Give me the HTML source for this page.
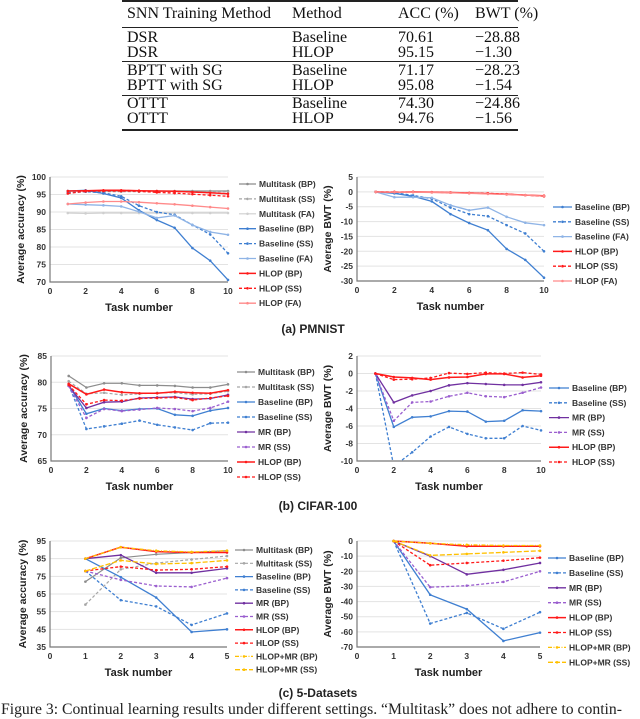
<!DOCTYPE html>
<html><head><meta charset="utf-8">
<style>
html,body{margin:0;padding:0;background:#fff;}
body{width:640px;height:719px;position:relative;overflow:hidden;font-family:"Liberation Sans",sans-serif;}
.t{position:absolute;font-family:"Liberation Serif",serif;font-size:16px;color:#111;white-space:nowrap;line-height:16px;}
.rule{position:absolute;left:122px;width:396px;background:#222;}
svg{position:absolute;left:0;top:0;}
.cap{position:absolute;font-family:"Liberation Serif",serif;font-size:15.7px;color:#222;white-space:nowrap;}
</style></head>
<body>
<div>
<div class="rule" style="top:0px;height:2px"></div>
<div class="rule" style="top:27px;height:1px"></div>
<div class="rule" style="top:61px;height:1px"></div>
<div class="rule" style="top:95px;height:1px"></div>
<div class="rule" style="top:129px;height:2px"></div>
<div id="tbl"></div>
</div>
<svg id="fig" width="640" height="719"></svg>
<div class="cap" style="left:1px;top:701px">Figure 3: Continual learning results under different settings. “Multitask” does not adhere to contin-</div>
<script>
// ---- table ----
const tblRows=[["SNN Training Method","Method","ACC (%)","BWT (%)"],
["DSR","Baseline","70.61","−28.88"],["DSR","HLOP","95.15","−1.30"],
["BPTT with SG","Baseline","71.17","−28.23"],["BPTT with SG","HLOP","95.08","−1.54"],
["OTTT","Baseline","74.30","−24.86"],["OTTT","HLOP","94.76","−1.56"]];
const tblY=[6,30,45,63,78,96,111];
const tblX=[127,292,398,475];
const tb=document.getElementById('tbl');
tblRows.forEach((r,i)=>{r.forEach((c,j)=>{const d=document.createElement('div');d.className='t';
d.style.left=tblX[j]+'px';d.style.top=tblY[i]+'px';d.textContent=c;

tb.appendChild(d);});});

// ---- chart data ----
const x10=[1,2,3,4,5,6,7,8,9,10];
const x5=[1,2,3,4,5];
const pmAccMtBP=[96,96,96,96,96,96,96,96,96,96];
const pmAccMtSS=[95.8,95.8,95.8,95.8,95.8,95.8,95.8,95.8,95.8,95.8];
const pmAccMtFA=[89.7,89.6,89.7,89.7,89.7,89.7,89.7,89.7,89.7,89.7];
const pmAccBaseBP=[96,96.2,95.3,94,90.5,87.7,85.5,79.7,76.1,70.6];
const pmAccBaseSS=[95.5,95.8,95.5,94.5,91.8,90,89.2,86.3,83.6,78.2];
const pmAccBaseFA=[92.3,92.1,91.9,91.6,90.1,88.3,89,86.3,84.3,83.5];
const pmAccHlopBP=[96,96.1,96.2,96.2,96.1,96,95.9,95.7,95.5,95.2];
const pmAccHlopSS=[95.3,95.9,96,96,95.9,95.6,95.4,95.1,94.8,94.5];
const pmAccHlopFA=[92.3,92.7,93,93,92.8,92.5,92.2,91.8,91.4,91];
const pmBwtBaseBP=[0,-0.5,-1.5,-3.2,-7.5,-10.5,-12.9,-19.2,-22.9,-28.9];
const pmBwtBaseSS=[0,-0.3,-1.2,-2.3,-5.3,-7.5,-8.2,-11.2,-14,-20];
const pmBwtBaseFA=[0,-1.8,-1.8,-2,-4.5,-6.2,-5.3,-8.4,-10.4,-11.2];
const pmBwtHlopBP=[0,-0.1,0,-0.1,-0.2,-0.4,-0.6,-0.8,-1.1,-1.3];
const pmBwtHlopSS=[0,0,-0.1,-0.1,-0.3,-0.4,-0.5,-0.8,-1.1,-1.5];
const pmBwtHlopFA=[0,-0.1,-0.1,-0.2,-0.3,-0.5,-0.7,-0.9,-1.1,-1.4];
const cfAccMtBP=[81.2,79,79.8,79.8,79.4,79.4,79.3,79,79,79.6];
const cfAccMtSS=[80.2,77.8,78,77.6,77.8,78,78,77.7,77.8,78.3];
const cfAccBaseBP=[79.5,74,75,74.6,74.9,75,73.8,73.6,74.6,75.1];
const cfAccBaseSS=[79.5,71.1,71.6,72.1,72.7,71.9,71.4,70.9,72.2,72.3];
const cfAccMrBP=[79.3,75.1,76.2,76.3,77,77.1,77.2,76.8,76.9,77.6];
const cfAccMrSS=[79.3,73.2,74.9,74.5,74.8,75.1,74.9,74.5,75.1,76.3];
const cfAccHlopBP=[79.7,77.7,78.6,78.1,77.9,77.9,78.2,78,77.9,78.5];
const cfAccHlopSS=[79.5,75.8,76.6,76.5,76.9,77,77.1,76.6,77,77.4];
const cfBwtBaseBP=[0,-6.1,-5,-4.9,-4.3,-4.35,-5.5,-5.4,-4.2,-4.3];
const cfBwtBaseSS=[0,-10.6,-9,-7.2,-6.1,-6.9,-7.4,-7.4,-6,-6.5];
const cfBwtMrBP=[0,-3.3,-2.5,-2,-1.35,-1.1,-1.2,-1.3,-1.3,-1];
const cfBwtMrSS=[0,-5.4,-3.3,-3.2,-2.6,-2.2,-2.6,-2.7,-2.2,-1.6];
const cfBwtHlopBP=[0,-0.4,-0.5,-0.7,-0.45,-0.4,-0.05,-0.05,-0.45,-0.25];
const cfBwtHlopSS=[0,-0.7,-0.65,-0.5,0.05,-0.05,0.1,0,0.1,-0.1];
const fdAccMtBP=[72,85.5,87.5,88.5,89.5];
const fdAccMtSS=[59,79,82.5,84.5,86.5];
const fdAccBaseBP=[85,74.5,63,43.5,45];
const fdAccBaseSS=[78,61.5,58,47.5,54];
const fdAccMrBP=[85,87,77,77,79.5];
const fdAccMrSS=[78,73,69.5,69,74];
const fdAccHlopBP=[85,91.5,89,88.5,88.5];
const fdAccHlopSS=[78,80.5,78.5,79,80.5];
const fdAccHmBP=[85,91.5,89.5,88.8,89.5];
const fdAccHmSS=[78,84,82,82.5,84];
const fdBwtBaseBP=[0,-35.5,-45,-66,-60.5];
const fdBwtBaseSS=[0,-54.5,-47.5,-58,-47];
const fdBwtMrBP=[0,-10,-22,-19,-14.5];
const fdBwtMrSS=[0,-30.5,-29.5,-27,-20];
const fdBwtHlopBP=[0,-1.5,-3.5,-3.5,-3.5];
const fdBwtHlopSS=[0,-16,-14.5,-13,-11];
const fdBwtHmBP=[0,-1.5,-2.5,-3,-3];
const fdBwtHmSS=[0,-9.5,-8.5,-7.5,-6.5];
const ticks10=[0,2,4,6,8,10];
const ticks5=[0,1,2,3,4,5];
const yTicksPmAcc=[70,75,80,85,90,95,100];
const yTicksPmBwt=[-30,-25,-20,-15,-10,-5,0,5];
const yTicksCfAcc=[65,70,75,80,85];
const yTicksCfBwt=[-10,-8,-6,-4,-2,0,2];
const yTicksFdAcc=[35,45,55,65,75,85,95];
const yTicksFdBwt=[-70,-60,-50,-40,-30,-20,-10,0];

const ST={
 mtBP:{c:'#8c8c8c',d:'',w:1.2},mtSS:{c:'#a6a6a6',d:'3,2',w:1.2},mtFA:{c:'#cfcfcf',d:'',w:1.2},
 baseBP:{c:'#3f7fd1',d:'',w:1.3},baseSS:{c:'#3f7fd1',d:'3,2',w:1.3},baseFA:{c:'#8fb4e6',d:'',w:1.3},
 hlopBP:{c:'#ff1a1a',d:'',w:1.5},hlopSS:{c:'#ff1a1a',d:'3,2',w:1.3},hlopFA:{c:'#ff8a8a',d:'',w:1.3},
 mrBP:{c:'#7030a0',d:'',w:1.3},mrSS:{c:'#9b5fcf',d:'3,2',w:1.3},
 hmBP:{c:'#ffc000',d:'4,1.5,1,1.5',w:1.3},hmSS:{c:'#ffc000',d:'5,2',w:1.3}
};
const NS='http://www.w3.org/2000/svg';
const fig=document.getElementById('fig');
function el(tag,attrs,parent){const e=document.createElementNS(NS,tag);for(const k in attrs)e.setAttribute(k,attrs[k]);(parent||fig).appendChild(e);return e;}
let clipId=0;
function chart(cfg){
 const g=el('g',{});
 
 
 const ymin=cfg.yt[0],ymax=cfg.yt[cfg.yt.length-1],xmax=cfg.xt[cfg.xt.length-1];
 const X=v=>cfg.x0+(cfg.x1-cfg.x0)*v/xmax;
 const Y=v=>cfg.yb+(cfg.yt0-cfg.yb)*(v-ymin)/(ymax-ymin);
 cfg.yt.forEach(t=>{
  if(t!==ymin){const gl=el('line',{x1:cfg.x0,x2:cfg.x1,y1:Y(t),y2:Y(t),stroke:'#e3e3e3','stroke-width':1},g);
  }
  const tx=el('text',{x:cfg.x0-4,y:Y(t)+3,'text-anchor':'end','font-size':8.5,'font-weight':'bold',fill:'#333'},g);tx.textContent=t;
  
 });
 cfg.xt.forEach(t=>{const tx=el('text',{x:X(t),y:cfg.yb+12,'text-anchor':'middle','font-size':8.5,'font-weight':'bold',fill:'#333'},g);tx.textContent=t;
  });
 const ax=el('path',{d:`M${cfg.x0},${cfg.yt0}V${cfg.yb}H${cfg.x1}`,fill:'none',stroke:'#777','stroke-width':1.2},g);
 
 const yl=el('text',{x:0,y:0,transform:`translate(${cfg.ylx},${(cfg.yb+cfg.yt0)/2}) rotate(-90)`,'text-anchor':'middle','font-size':10.5,'font-weight':'bold',fill:'#222'},g);
 yl.textContent=cfg.ylabel;
 const xl=el('text',{x:(cfg.x0+cfg.x1)/2,y:cfg.yb+29,'text-anchor':'middle','font-size':11,'font-weight':'bold',fill:'#222'},g);
 xl.textContent='Task number';
 const cid='c'+(clipId++);
 const cp=el('clipPath',{id:cid},g);el('rect',{x:cfg.x0,y:cfg.yt0-3,width:cfg.x1-cfg.x0+4,height:cfg.yb-cfg.yt0+3},cp);
 const sg=el('g',{'clip-path':`url(#${cid})`},g);
 cfg.series.forEach((s,i)=>{
  const st=ST[s.k];
  const d=s.v.map((v,j)=>(j?'L':'M')+X(cfg.x[j]).toFixed(1)+','+Y(v).toFixed(1)).join('');
  const p=el('path',{d,fill:'none',stroke:st.c,'stroke-width':st.w,'stroke-dasharray':st.d},sg);
  
  s.v.forEach((v,j)=>{const m=el('circle',{cx:X(cfg.x[j]),cy:Y(v),r:1.3,fill:st.c},sg);
   });
  const ly=cfg.ly0+i*cfg.lds;
  const lg=el('g',{},g);
  
  el('line',{x1:cfg.lx,x2:cfg.lx+cfg.lw,y1:ly,y2:ly,stroke:st.c,'stroke-width':st.w,'stroke-dasharray':st.d},lg);
  el('circle',{cx:cfg.lx+cfg.lw/2,cy:ly,r:1.3,fill:st.c},lg);
  const lt=el('text',{x:cfg.lx+cfg.lw+3,y:ly+3,'font-size':8.5,'font-weight':'bold',fill:'#333'},lg);lt.textContent=s.n;
 });
}
chart({name:'pmnist-accuracy-chart',x:x10,xt:ticks10,yt:yTicksPmAcc,x0:50,x1:228,yt0:177,yb:282,ylx:24,ylabel:'Average accuracy (%)',lx:239,lw:17,ly0:184,lds:14.9,
 series:[{k:'mtBP',n:'Multitask (BP)',v:pmAccMtBP},{k:'mtSS',n:'Multitask (SS)',v:pmAccMtSS},{k:'mtFA',n:'Multitask (FA)',v:pmAccMtFA},
 {k:'baseBP',n:'Baseline (BP)',v:pmAccBaseBP},{k:'baseSS',n:'Baseline (SS)',v:pmAccBaseSS},{k:'baseFA',n:'Baseline (FA)',v:pmAccBaseFA},
 {k:'hlopBP',n:'HLOP (BP)',v:pmAccHlopBP},{k:'hlopSS',n:'HLOP (SS)',v:pmAccHlopSS},{k:'hlopFA',n:'HLOP (FA)',v:pmAccHlopFA}]});
chart({name:'pmnist-bwt-chart',x:x10,xt:ticks10,yt:yTicksPmBwt,x0:357,x1:544,yt0:177,yb:281,ylx:331,ylabel:'Average BWT (%)',lx:553,lw:19,ly0:207,lds:14.8,
 series:[{k:'baseBP',n:'Baseline (BP)',v:pmBwtBaseBP},{k:'baseSS',n:'Baseline (SS)',v:pmBwtBaseSS},{k:'baseFA',n:'Baseline (FA)',v:pmBwtBaseFA},
 {k:'hlopBP',n:'HLOP (BP)',v:pmBwtHlopBP},{k:'hlopSS',n:'HLOP (SS)',v:pmBwtHlopSS},{k:'hlopFA',n:'HLOP (FA)',v:pmBwtHlopFA}]});
chart({name:'cifar-accuracy-chart',x:x10,xt:ticks10,yt:yTicksCfAcc,x0:51,x1:228,yt0:356,yb:461,ylx:27,ylabel:'Average accuracy (%)',lx:237,lw:18,ly0:372,lds:15,
 series:[{k:'mtBP',n:'Multitask (BP)',v:cfAccMtBP},{k:'mtSS',n:'Multitask (SS)',v:cfAccMtSS},
 {k:'baseBP',n:'Baseline (BP)',v:cfAccBaseBP},{k:'baseSS',n:'Baseline (SS)',v:cfAccBaseSS},
 {k:'mrBP',n:'MR (BP)',v:cfAccMrBP},{k:'mrSS',n:'MR (SS)',v:cfAccMrSS},
 {k:'hlopBP',n:'HLOP (BP)',v:cfAccHlopBP},{k:'hlopSS',n:'HLOP (SS)',v:cfAccHlopSS}]});
chart({name:'cifar-bwt-chart',x:x10,xt:ticks10,yt:yTicksCfBwt,x0:357,x1:541,yt0:356,yb:461,ylx:331,ylabel:'Average BWT (%)',lx:549,lw:20,ly0:388,lds:14.8,
 series:[{k:'baseBP',n:'Baseline (BP)',v:cfBwtBaseBP},{k:'baseSS',n:'Baseline (SS)',v:cfBwtBaseSS},
 {k:'mrBP',n:'MR (BP)',v:cfBwtMrBP},{k:'mrSS',n:'MR (SS)',v:cfBwtMrSS},
 {k:'hlopBP',n:'HLOP (BP)',v:cfBwtHlopBP},{k:'hlopSS',n:'HLOP (SS)',v:cfBwtHlopSS}]});
chart({name:'five-datasets-accuracy-chart',x:x5,xt:ticks5,yt:yTicksFdAcc,x0:50,x1:227,yt0:541,yb:647,ylx:26,ylabel:'Average accuracy (%)',lx:235,lw:18,ly0:550,lds:13.3,
 series:[{k:'mtBP',n:'Multitask (BP)',v:fdAccMtBP},{k:'mtSS',n:'Multitask (SS)',v:fdAccMtSS},
 {k:'baseBP',n:'Baseline (BP)',v:fdAccBaseBP},{k:'baseSS',n:'Baseline (SS)',v:fdAccBaseSS},
 {k:'mrBP',n:'MR (BP)',v:fdAccMrBP},{k:'mrSS',n:'MR (SS)',v:fdAccMrSS},
 {k:'hlopBP',n:'HLOP (BP)',v:fdAccHlopBP},{k:'hlopSS',n:'HLOP (SS)',v:fdAccHlopSS},
 {k:'hmBP',n:'HLOP+MR (BP)',v:fdAccHmBP},{k:'hmSS',n:'HLOP+MR (SS)',v:fdAccHmSS}]});
chart({name:'five-datasets-bwt-chart',x:x5,xt:ticks5,yt:yTicksFdBwt,x0:357,x1:540,yt0:541,yb:647,ylx:331,ylabel:'Average BWT (%)',lx:548,lw:18,ly0:558,lds:14.9,
 series:[{k:'baseBP',n:'Baseline (BP)',v:fdBwtBaseBP},{k:'baseSS',n:'Baseline (SS)',v:fdBwtBaseSS},
 {k:'mrBP',n:'MR (BP)',v:fdBwtMrBP},{k:'mrSS',n:'MR (SS)',v:fdBwtMrSS},
 {k:'hlopBP',n:'HLOP (BP)',v:fdBwtHlopBP},{k:'hlopSS',n:'HLOP (SS)',v:fdBwtHlopSS},
 {k:'hmBP',n:'HLOP+MR (BP)',v:fdBwtHmBP},{k:'hmSS',n:'HLOP+MR (SS)',v:fdBwtHmSS}]});
[['(a) PMNIST',313,333],['(b) CIFAR-100',318,510],['(c) 5-Datasets',318,697]].forEach(s=>{
 const t=el('text',{x:s[1],y:s[2],'text-anchor':'middle','font-size':12,'font-weight':'bold',fill:'#222'});t.textContent=s[0];
 });
</script>
</body></html>
